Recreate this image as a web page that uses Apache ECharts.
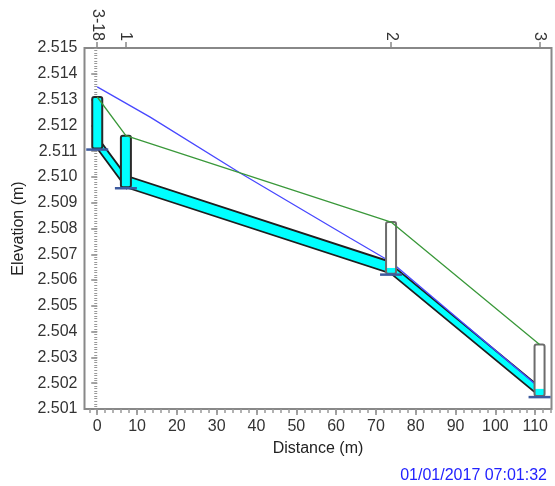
<!DOCTYPE html>
<html>
<head>
<meta charset="utf-8">
<script src="https://cdn.jsdelivr.net/npm/echarts@6/dist/echarts.min.js"></script>
<style>
html,body{margin:0;padding:0;background:#fff;}
#chart{width:555px;height:486px;}
</style>
</head>
<body>
<div id="chart"></div>
<script>
// ---- data ----
const nodeNames = ['3-18', '1', '2', '3'];
const nodeDist = [0, 7.2, 73.8, 111.1];
const nodeInvert = [2.5111, 2.5096, 2.50625, 2.5015];
const nodeGround = [2.5131, 2.5116, 2.50825, 2.5035];
const nodeWater = [2.5131, 2.5116, 2.50647, 2.50178];
const conduitFrom = [0, 1, 2];
const conduitTo = [1, 2, 3];
const conduitDepth = [0.00045, 0.00045, 0.00036];
const hglDist = [0, 13.3, 35.9, 63.5, 73.8, 111.1];
const hglLevel = [2.51349, 2.51232, 2.51015, 2.50763, 2.50670, 2.50182];
const xTickLabels = [0, 10, 20, 30, 40, 50, 60, 70, 80, 90, 100, 110];
const yTickLabels = [2.501, 2.502, 2.503, 2.504, 2.505, 2.506, 2.507, 2.508, 2.509, 2.510, 2.511, 2.512, 2.513, 2.514, 2.515];
const timeStamp = '01/01/2017 07:01:32';

// ---- build ----
const X_MIN = -3.2, X_MAX = 114.1, Y_MIN = 2.501, Y_MAX = 2.515;
const xMinor = []; for (let v = -2; v <= 114; v += 2) xMinor.push(v);
const yMinor = []; for (let i = 0; i <= 140; i++) yMinor.push(+(Y_MIN + i * 0.0001).toFixed(4));

const FONT = "'Liberation Sans', Arial, sans-serif";
const nodeRows = nodeDist.map((d, i) => [d, nodeInvert[i], nodeGround[i], nodeWater[i]]);
const conduitRows = conduitFrom.map((f, i) => [nodeDist[f], nodeInvert[f], nodeDist[conduitTo[i]], nodeInvert[conduitTo[i]], conduitDepth[i]]);

function renderConduit(params, api) {
  const x1 = api.value(0), b1 = api.value(1), x2 = api.value(2), b2 = api.value(3), h = api.value(4);
  const p1 = api.coord([x1, b1]), p2 = api.coord([x2, b2]);
  const p3 = api.coord([x2, b2 + h]), p4 = api.coord([x1, b1 + h]);
  return {
    type: 'polygon',
    shape: { points: [p1, p2, p3, p4] },
    style: { fill: '#00ffff', stroke: '#1e1e1e', lineWidth: 1.8 }
  };
}
function renderNode(params, api) {
  const x = api.value(0), inv = api.value(1), gr = api.value(2), wl = api.value(3);
  const pT = api.coord([x, gr]), pB = api.coord([x, inv]), pW = api.coord([x, wl]);
  const w = 10;
  const full = wl >= gr - 1e-9;
  return {
    type: 'group',
    children: [
      { type: 'rect', shape: { x: pT[0] - w / 2, y: pT[1], width: w, height: pB[1] - pT[1] }, style: { fill: '#ffffff' } },
      { type: 'rect', shape: { x: pT[0] - w / 2, y: pW[1], width: w, height: pB[1] - pW[1] }, style: { fill: '#00ffff' } },
      { type: 'rect', shape: { x: pT[0] - w / 2, y: pT[1], width: w, height: pB[1] - pT[1], r: 2 },
        style: { fill: 'none', stroke: full ? '#2a2a2a' : '#6c6c6c', lineWidth: 2 } },
      { type: 'line', shape: { x1: pB[0] - 11, y1: pB[1] + 1, x2: pB[0] + 11, y2: pB[1] + 1 },
        style: { stroke: '#3d5a9e', lineWidth: 2.5 } }
    ]
  };
}

const chart = echarts.init(document.getElementById('chart'), null, { renderer: 'canvas' });
chart.setOption({
  animation: false,
  backgroundColor: '#ffffff',
  grid: { left: 84.5, right: 3.5, top: 48, bottom: 77, show: true, borderColor: '#888888', borderWidth: 2, backgroundColor: 'transparent' },
  xAxis: [
    {
      type: 'value', position: 'bottom', min: X_MIN, max: X_MAX,
      name: 'Distance (m)', nameLocation: 'middle', nameGap: 32,
      nameTextStyle: { fontFamily: FONT, fontSize: 16, color: '#222' },
      axisLine: { show: false }, splitLine: { show: false },
      axisTick: { show: true, customValues: xTickLabels, length: 6, lineStyle: { color: '#888', width: 1.5 } },
      axisLabel: { show: true, customValues: xTickLabels, margin: 10, fontFamily: FONT, fontSize: 16, color: '#333' }
    },
    {
      type: 'value', position: 'bottom', min: X_MIN, max: X_MAX,
      axisLine: { show: false }, splitLine: { show: false },
      axisTick: { show: true, customValues: xMinor, length: 4, lineStyle: { color: '#999', width: 1.5 } },
      axisLabel: { show: false }
    },
    {
      type: 'value', position: 'top', min: X_MIN, max: X_MAX,
      axisLine: { show: false }, splitLine: { show: false },
      axisTick: { show: true, customValues: nodeDist, length: 6, lineStyle: { color: '#888', width: 1.5 } },
      axisLabel: {
        show: true, customValues: nodeDist, rotate: 90, margin: 7,
        fontFamily: FONT, fontSize: 16, color: '#333',
        formatter: function (v) {
          let best = 0;
          for (let i = 1; i < nodeDist.length; i++) if (Math.abs(nodeDist[i] - v) < Math.abs(nodeDist[best] - v)) best = i;
          return nodeNames[best];
        }
      }
    }
  ],
  yAxis: [
    {
      type: 'value', position: 'left', min: Y_MIN, max: Y_MAX,
      name: 'Elevation (m)', nameLocation: 'middle', nameGap: 53, nameRotate: 90,
      nameTextStyle: { fontFamily: FONT, fontSize: 16, color: '#222' },
      axisLine: { show: false }, splitLine: { show: false },
      axisTick: { show: true, customValues: yTickLabels, length: 6, lineStyle: { color: '#888', width: 1.5 } },
      axisLabel: { show: true, customValues: yTickLabels, margin: 7, fontFamily: FONT, fontSize: 16, color: '#333',
        formatter: function (v) { return v.toFixed(3); } }
    },
    {
      type: 'value', position: 'left', min: Y_MIN, max: Y_MAX,
      axisLine: { show: false }, splitLine: { show: false },
      axisTick: { show: true, customValues: yMinor, length: 3, lineStyle: { color: '#999', width: 1 } },
      axisLabel: { show: false }
    }
  ],
  series: [
    {
      type: 'custom', name: 'Conduits', xAxisIndex: 0, yAxisIndex: 0, z: 2,
      renderItem: renderConduit, data: conduitRows, clip: true,
      encode: { x: [0, 2], y: [1, 3] }
    },
    {
      type: 'line', name: 'HGL', xAxisIndex: 0, yAxisIndex: 0, z: 3,
      data: hglDist.map((d, i) => [d, hglLevel[i]]), symbol: 'none',
      lineStyle: { color: '#4848ff', width: 1.3 }
    },
    {
      type: 'custom', name: 'Nodes', xAxisIndex: 0, yAxisIndex: 0, z: 4,
      renderItem: renderNode, data: nodeRows, clip: false,
      encode: { x: 0, y: [1, 2] }
    },
    {
      type: 'line', name: 'Ground', xAxisIndex: 0, yAxisIndex: 0, z: 5,
      data: nodeDist.map((d, i) => [d, nodeGround[i]]), symbol: 'none',
      lineStyle: { color: '#3a983a', width: 1.3 }
    }
  ],
  graphic: [
    {
      type: 'text', right: 8, top: 468,
      style: { text: timeStamp, fontFamily: FONT, fontSize: 16, fill: '#2222ff' }
    }
  ]
});
</script>
</body>
</html>
